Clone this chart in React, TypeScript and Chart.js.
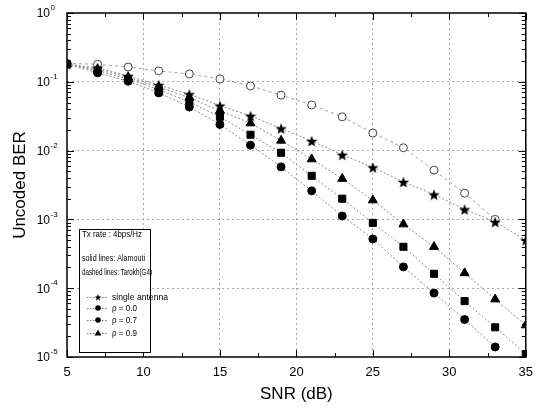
import React, { useEffect, useRef } from 'react';
import { Chart, registerables } from 'chart.js';

Chart.register(...registerables);

// ---------------- data ----------------
const snr = [5, 7, 9, 11, 13, 15, 17, 19, 21, 23, 25, 27, 29, 31, 33, 35];
const singleAntenna = [0.18, 0.16, 0.121, 0.09, 0.066, 0.045, 0.032, 0.021, 0.0138, 0.0087, 0.0057, 0.0035, 0.0023, 0.0014, 0.00092, 0.0005];
const rho00 = [0.18, 0.135, 0.102, 0.069, 0.043, 0.024, 0.012, 0.0058, 0.0026, 0.00112, 0.00052, 0.000204, 0.000085, 0.000035, 0.000014, null];
const rho07 = [0.18, 0.145, 0.11, 0.077, 0.051, 0.031, 0.017, 0.0093, 0.0043, 0.002, 0.00089, 0.0004, 0.000162, 0.000065, 0.000027, 0.000011];
const rho09 = [0.18, 0.152, 0.116, 0.084, 0.059, 0.038, 0.025, 0.014, 0.0075, 0.0039, 0.0019, 0.00085, 0.0004, 0.000166, 0.000069, 0.000029];
const tarokh = [0.185, 0.18, 0.164, 0.144, 0.13, 0.11, 0.087, 0.064, 0.046, 0.031, 0.018, 0.011, 0.0052, 0.0024, 0.001, null];

const xTicks = [5, 10, 15, 20, 25, 30, 35];
const yDecades = [1, 0.1, 0.01, 0.001, 0.0001, 0.00001];
const yExponents = ['0', '-1', '-2', '-3', '-4', '-5'];
const legendHeader = ['Tx rate : 4bps/Hz', 'solid lines: Alamouti', 'dashed lines: Tarokh(G4)'];
const legendLabels = ['single antenna', '\u03c1 = 0.0', '\u03c1 = 0.7', '\u03c1 = 0.9'];
const xTitle = 'SNR (dB)';
const yTitle = 'Uncoded BER';

const FONT = "'Liberation Sans', Arial, Helvetica, sans-serif";

function makeStar(size: number): HTMLCanvasElement {
  const c = document.createElement('canvas');
  c.width = size;
  c.height = size;
  const g = c.getContext('2d')!;
  const cx = size / 2;
  const cy = size / 2 + size * 0.06;
  const R = size / 2;
  const r = R * 0.42;
  g.beginPath();
  for (let i = 0; i < 10; i++) {
    const a = -Math.PI / 2 + (i * Math.PI) / 5;
    const rad = i % 2 === 0 ? R : r;
    g.lineTo(cx + rad * Math.cos(a), cy + rad * Math.sin(a));
  }
  g.closePath();
  g.fillStyle = '#000';
  g.fill();
  return c;
}

function pts(values: (number | null)[]) {
  return snr.map((x, i) => ({ x, y: values[i] as number | null }));
}

let starSmall: HTMLCanvasElement;

const framePlugin = {
  id: 'frameAndTicks',
  afterDraw(chart: any) {
    const { ctx, chartArea } = chart;
    const xs = chart.scales.x;
    const ys = chart.scales.y;
    const { left, right, top, bottom } = chartArea;
    ctx.save();
    // frame
    ctx.strokeStyle = '#000';
    ctx.lineWidth = 1.5;
    ctx.setLineDash([]);
    ctx.strokeRect(left, top, right - left, bottom - top);

    // inward ticks
    ctx.lineWidth = 1;
    ctx.beginPath();
    for (let v = 5; v <= 35.001; v += 2.5) {
      const px = Math.round(xs.getPixelForValue(v)) + 0.5;
      const len = Math.abs(v % 5) < 1e-6 ? 7 : 4;
      ctx.moveTo(px, bottom);
      ctx.lineTo(px, bottom - len);
      ctx.moveTo(px, top);
      ctx.lineTo(px, top + len);
    }
    for (let e = -5; e <= 0; e++) {
      for (let m = 1; m <= 9; m++) {
        if (e === 0 && m > 1) break;
        const v = m * Math.pow(10, e);
        const py = Math.round(ys.getPixelForValue(v)) + 0.5;
        const len = m === 1 ? 7 : 4;
        ctx.moveTo(left, py);
        ctx.lineTo(left + len, py);
        ctx.moveTo(right, py);
        ctx.lineTo(right - len, py);
      }
    }
    ctx.stroke();

    // y tick labels with superscripts
    ctx.fillStyle = '#000';
    yDecades.forEach((v, i) => {
      const py = ys.getPixelForValue(v);
      ctx.font = `12px ${FONT}`;
      ctx.textAlign = 'right';
      ctx.textBaseline = 'middle';
      ctx.fillText('10', 50, py + 1);
      ctx.font = `8px ${FONT}`;
      ctx.textAlign = 'left';
      ctx.fillText(yExponents[i], 50.5, py - 5);
    });

    // legend box
    const bx = 79.5, by = 229.5, bw = 71, bh = 123;
    ctx.fillStyle = '#fff';
    ctx.fillRect(bx, by, bw, bh);
    ctx.strokeStyle = '#000';
    ctx.lineWidth = 1;
    ctx.strokeRect(bx, by, bw, bh);
    ctx.fillStyle = '#000';
    ctx.font = `9px ${FONT}`;
    ctx.textAlign = 'left';
    ctx.textBaseline = 'middle';
    const headY = [235, 259, 273];
    const headW = [60, 63, 70];
    legendHeader.forEach((t, i) => ctx.fillText(t, 82, headY[i], headW[i]));
    const rowY = [297, 308, 320, 333];
    const rowW = [56, 25, 25, 25];
    legendLabels.forEach((t, i) => {
      const y = rowY[i];
      ctx.save();
      ctx.strokeStyle = '#777';
      ctx.setLineDash([1.5, 1.5]);
      ctx.beginPath();
      ctx.moveTo(87, y + 0.5);
      ctx.lineTo(108, y + 0.5);
      ctx.stroke();
      ctx.restore();
      ctx.fillStyle = '#000';
      ctx.beginPath();
      if (i === 0) {
        ctx.drawImage(starSmall, 98 - 3.5, y - 3.5, 7, 7);
      } else if (i === 1 || i === 2) {
        ctx.arc(98, y, 2.8, 0, Math.PI * 2);
        ctx.fill();
      } else {
        ctx.moveTo(98, y - 3.2);
        ctx.lineTo(101.5, y + 2.6);
        ctx.lineTo(94.5, y + 2.6);
        ctx.closePath();
        ctx.fill();
      }
      ctx.font = `9px ${FONT}`;
      ctx.fillText(t, 112, y + 0.5, rowW[i]);
    });
    ctx.restore();
  },
};

export default function App() {
  const ref = useRef<HTMLCanvasElement | null>(null);
  useEffect(() => {
    document.body.style.margin = '0';
    const starBig = makeStar(12);
    starSmall = makeStar(9);
    const filledLine = {
      borderColor: '#8c8c8c',
      borderWidth: 1,
      borderDash: [2, 2],
      pointBackgroundColor: '#000',
      pointBorderColor: '#000',
      pointBorderWidth: 1,
      tension: 0,
      fill: false,
    };
    const gridColor = '#a8a8a8';
    const chart = new Chart(ref.current!, {
      type: 'line',
      data: {
        datasets: [
          { ...filledLine, label: 'single antenna', data: pts(singleAntenna), pointStyle: starBig as any, pointRadius: 6 },
          { ...filledLine, label: 'rho = 0.0', data: pts(rho00), pointStyle: 'circle', pointRadius: 4 },
          { ...filledLine, label: 'rho = 0.7', data: pts(rho07), pointStyle: 'rect', pointRadius: 5 },
          { ...filledLine, label: 'rho = 0.9', data: pts(rho09), pointStyle: 'triangle', pointRadius: 5.2 },
          {
            label: 'Tarokh(G4)',
            data: pts(tarokh),
            borderColor: '#a0a0a0',
            borderWidth: 1,
            borderDash: [3, 3],
            pointStyle: 'circle',
            pointRadius: 4,
            pointBackgroundColor: '#fff',
            pointBorderColor: '#444',
            pointBorderWidth: 1,
            tension: 0,
            fill: false,
          },
        ],
      },
      options: {
        responsive: false,
        animation: false,
        events: [],
        layout: { padding: { left: 0, top: 13, right: 14, bottom: 0 } },
        plugins: { legend: { display: false }, tooltip: { enabled: false } },
        scales: {
          x: {
            type: 'linear',
            min: 5,
            max: 35,
            afterBuildTicks: (s: any) => {
              s.ticks = xTicks.map((v) => ({ value: v }));
            },
            afterFit: (s: any) => {
              s.height = 51;
            },
            ticks: { color: '#000', font: { family: FONT, size: 13 }, padding: 8, maxRotation: 0 },
            grid: {
              drawTicks: false,
              color: (c: any) => (c.tick && (c.tick.value === 5 || c.tick.value === 35) ? 'rgba(0,0,0,0)' : gridColor),
              lineWidth: 1,
            },
            border: { display: false, dash: [2, 3] },
            title: {
              display: true,
              text: xTitle,
              color: '#000',
              font: { family: FONT, size: 17 },
              padding: { top: 0, bottom: 3 },
            },
          },
          y: {
            type: 'logarithmic',
            min: 0.00001,
            max: 1,
            afterBuildTicks: (s: any) => {
              s.ticks = yDecades.map((v) => ({ value: v }));
            },
            afterFit: (s: any) => {
              s.width = 67;
            },
            ticks: { display: false },
            grid: {
              drawTicks: false,
              color: (c: any) => (c.tick && (c.tick.value === 1 || c.tick.value === 0.00001) ? 'rgba(0,0,0,0)' : gridColor),
              lineWidth: 1,
            },
            border: { display: false, dash: [2, 3] },
            title: {
              display: true,
              text: yTitle,
              color: '#000',
              font: { family: FONT, size: 17 },
              padding: { top: 10, bottom: 0 },
            },
          },
        },
      },
      plugins: [framePlugin],
    });
    return () => chart.destroy();
  }, []);
  return (
    <div style={{ width: 541, height: 408 }}>
      <canvas ref={ref} width={541} height={408} style={{ display: 'block' }} />
    </div>
  );
}
